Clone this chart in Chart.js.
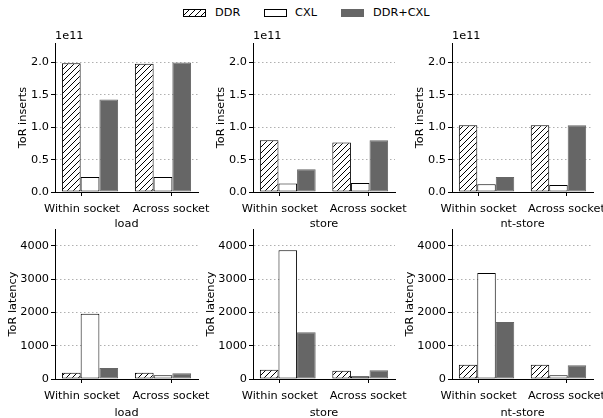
<!DOCTYPE html>
<html>
<head>
<meta charset="utf-8">
<script src="https://cdn.jsdelivr.net/npm/chart.js@4"></script>
<style>
  body { margin: 0; width: 603px; height: 418px; overflow: hidden; background: #fff; position: relative; font-family: "DejaVu Sans", sans-serif; }
  canvas { position: absolute; }
  .sw { position: absolute; top: 9px; width: 23px; height: 8px; box-sizing: border-box; border: 1px solid #000; }
  .lt { position: absolute; top: 5px; font-size: 11.3px; line-height: 16px; color: #000; }
</style>
</head>
<body>
<div class="sw" style="left:183px;background:repeating-linear-gradient(135deg,#fff 0 3.2px,#000 3.2px 4.2px);"></div>
<div class="lt" style="left:215px;">DDR</div>
<div class="sw" style="left:264px;background:#fff;"></div>
<div class="lt" style="left:295px;">CXL</div>
<div class="sw" style="left:341px;background:#666;border-color:#666;"></div>
<div class="lt" style="left:373px;">DDR+CXL</div>

<canvas id="c0"></canvas><canvas id="c1"></canvas><canvas id="c2"></canvas>
<canvas id="c3"></canvas><canvas id="c4"></canvas><canvas id="c5"></canvas>

<script>
const categories = ["Within socket", "Across socket"];
const operations = ["load", "store", "nt-store"];
const seriesNames = ["DDR", "CXL", "DDR+CXL"];

// ToR inserts, one pair per operation: [within, across]
const insertsDDR  = [[1.99e11, 1.98e11], [0.80e11, 0.765e11], [1.03e11, 1.03e11]];
const insertsCXL  = [[0.23e11, 0.23e11], [0.13e11, 0.14e11], [0.12e11, 0.11e11]];
const insertsBoth = [[1.43e11, 2.00e11], [0.35e11, 0.80e11], [0.23e11, 1.03e11]];
const insertsTicks = [0, 0.5e11, 1.0e11, 1.5e11, 2.0e11];

// ToR latency
const latencyDDR  = [[190, 190], [280, 250], [430, 430]];
const latencyCXL  = [[1960, 110], [3860, 80], [3180, 110]];
const latencyBoth = [[330, 170], [1400, 260], [1710, 410]];
const latencyTicks = [0, 1000, 2000, 3000, 4000];

const tickPos = [-0.11, 1.11];   // where the category labels sit
const axisLeft = [55, 253, 452];
const axisRight = [198, 395, 593];

Chart.defaults.font.family = "DejaVu Sans";
Chart.defaults.font.size = 11.3;
Chart.defaults.color = "#000";

function hatchPattern() {
  const c = document.createElement("canvas");
  c.width = c.height = 6;
  const g = c.getContext("2d");
  g.fillStyle = "#fff";
  g.fillRect(0, 0, 6, 6);
  g.strokeStyle = "#000";
  g.lineWidth = 1;
  g.beginPath();
  g.moveTo(0, 6); g.lineTo(6, 0);
  g.moveTo(-1, 1); g.lineTo(1, -1);
  g.moveTo(5, 7); g.lineTo(7, 5);
  g.stroke();
  return g.createPattern(c, "repeat");
}
const hatch = hatchPattern();

function points(vals) {
  return vals.map((v, i) => ({ x: i, y: v }));
}

function panel(idx, col, isTop) {
  const yW = isTop ? 39 : 49;
  const left = axisLeft[col] - yW;
  const cTop = isTop ? 20 : 222;
  const cH = isTop ? 211 : 198;
  const xH = isTop ? 39 : 41;
  const padR = 20;
  const cW = axisRight[col] + padR - left;

  const cv = document.getElementById("c" + idx);
  cv.width = cW; cv.height = cH;
  cv.style.left = left + "px"; cv.style.top = cTop + "px";

  const ddr = isTop ? insertsDDR[col] : latencyDDR[col];
  const cxl = isTop ? insertsCXL[col] : latencyCXL[col];
  const both = isTop ? insertsBoth[col] : latencyBoth[col];
  const yTicks = isTop ? insertsTicks : latencyTicks;

  new Chart(cv, {
    type: "bar",
    data: {
      datasets: [
        { label: seriesNames[0], data: points(ddr), backgroundColor: hatch, borderColor: "#000" },
        { label: seriesNames[1], data: points(cxl), backgroundColor: "#fff", borderColor: "#000" },
        { label: seriesNames[2], data: points(both), backgroundColor: "#666", borderColor: "#666" }
      ]
    },
    options: {
      responsive: false,
      animation: false,
      devicePixelRatio: 1,
      layout: { padding: { left: 0, right: padR, top: isTop ? 0 : 7, bottom: 0 } },
      datasets: {
        bar: { categoryPercentage: 0.77, barPercentage: 1, borderWidth: 1, borderSkipped: false }
      },
      plugins: {
        legend: { display: false },
        tooltip: { enabled: false },
        title: {
          display: isTop,
          text: "1e11",
          align: "start",
          fullSize: false,
          padding: { top: 9.5, bottom: 0 },
          font: { size: 11.3, weight: "normal" },
          color: "#000"
        }
      },
      scales: {
        x: {
          type: "linear",
          min: -0.48, max: 1.48,
          offset: false,
          grid: { display: true, offset: false, drawOnChartArea: false, drawTicks: true, tickLength: 4, tickColor: "#000", tickWidth: 1 },
          border: { display: true, color: "#000", width: 1 },
          afterBuildTicks: s => { s.ticks = tickPos.map(v => ({ value: v })); },
          ticks: { padding: 6, maxRotation: 0, autoSkip: false, callback: (v, i) => categories[i] },
          title: { display: true, text: operations[col], padding: 0 },
          afterFit: s => { s.height = xH; s.paddingLeft = 0; s.paddingRight = 0; }
        },
        y: {
          min: 0,
          max: isTop ? 2.3e11 : 4500,
          grid: {
            color: c => (c.tick && c.tick.value === 0 ? "rgba(0,0,0,0)" : "#b0b0b0"),
            lineWidth: 1,
            tickLength: 4, tickColor: "#000", tickWidth: 1, tickBorderDash: []
          },
          border: { display: true, color: "#000", width: 1, dash: [1.5, 2.5] },
          afterBuildTicks: s => { s.ticks = yTicks.map(v => ({ value: v })); },
          ticks: {
            padding: 2,
            autoSkip: false,
            callback: v => (isTop ? (v / 1e11).toFixed(1) : String(v))
          },
          title: { display: true, text: isTop ? "ToR inserts" : "ToR latency", padding: 0 },
          afterFit: s => { s.width = yW; s.paddingTop = 0; s.paddingBottom = 0; }
        }
      }
    }
  });
}

for (let c = 0; c < 3; c++) {
  panel(c, c, true);
  panel(c + 3, c, false);
}
</script>
</body>
</html>
